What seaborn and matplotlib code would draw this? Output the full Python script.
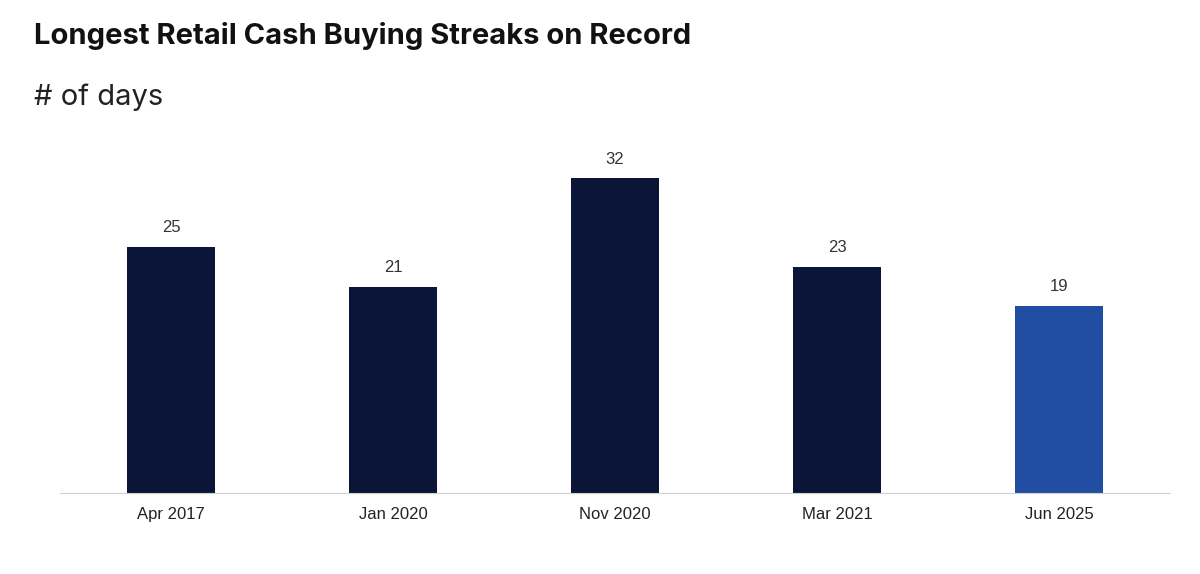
import matplotlib
matplotlib.use("Agg")
import matplotlib.pyplot as plt
import seaborn as sns
import pandas as pd

periods = ["Apr 2017", "Jan 2020", "Nov 2020", "Mar 2021", "Jun 2025"]
streak_days = [25, 21, 32, 23, 19]
bar_colors = ["#0b1538", "#0b1538", "#0b1538", "#0b1538", "#214ea3"]

df = pd.DataFrame({"period": periods, "days": streak_days})

fig = plt.figure(figsize=(12, 5.74), dpi=100)
ax = fig.add_axes([0.05, 0.141, 0.925, 0.615])
sns.barplot(data=df, x="period", y="days", hue="period", palette=bar_colors,
            width=0.4, legend=False, ax=ax, saturation=1)

for i, v in enumerate(streak_days):
    ax.text(i, v + 1.2, str(v), ha="center", va="bottom", fontsize=12,
            color="#333333", family="Liberation Sans")

ax.set_ylim(0, 35.9)
ax.set_xlim(-0.5, 4.5)
ax.set_xlabel("")
ax.set_ylabel("")
ax.set_yticks([])
for s in ["top", "right", "left"]:
    ax.spines[s].set_visible(False)
ax.spines["bottom"].set_color("#d0d0d0")
ax.tick_params(axis="x", length=0, pad=10, labelsize=12, labelcolor="#222222")
for lbl in ax.get_xticklabels():
    lbl.set_family("Liberation Sans")

fig.text(0.028, 0.938, "Longest Retail Cash Buying Streaks on Record", fontsize=21,
         fontweight="bold", color="#111111", va="center", family="Inter")
fig.text(0.028, 0.831, "# of days", fontsize=21, color="#222222", va="center", family="Inter")

fig.savefig("out.png", dpi=100, facecolor="white")
